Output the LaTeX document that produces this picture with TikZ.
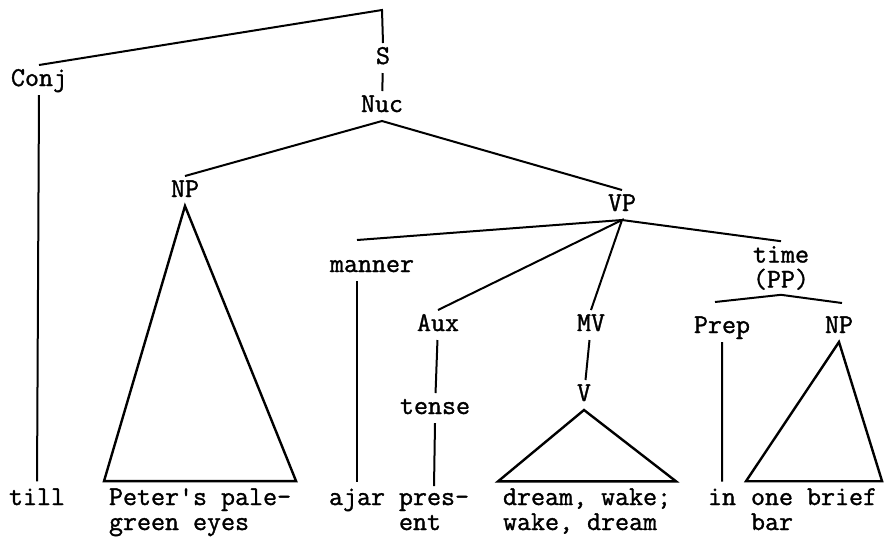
\documentclass[tikz,border=0pt]{standalone}
\usepackage{fontspec}
\setmonofont{Latin Modern Mono}[FakeBold=1.2]
\usetikzlibrary{calc,positioning}

\tikzset{
    cat/.style={inner sep=2pt, text height=8pt, text depth=2pt},
    twoline/.style={inner sep=2pt, align=center},
    leaf/.style={anchor=base west, align=left, inner xsep=2pt, inner ysep=3pt},
    roof/.style={line width=1.2pt, line join=miter}
}

\begin{document}
\begin{tikzpicture}[x=0.5pt,y=-0.5pt,line width=1pt,
        every node/.style={font=\ttfamily\fontsize{13.6}{12.5}\selectfont}]
        \useasboundingbox (0,0) rectangle (888,538);

        \coordinate (cTopPt) at (382,10);
        \coordinate (cMannerPt) at (357,240);
        \coordinate (cPrepPt) at (715,302);
        \coordinate (cNPbPt) at (842,303);

        % categories
        \node[cat] (nConj) at (39,80) {Conj};
        \node[cat] (nS) at (383,58) {S};
        \node[cat] (nNuc) at (382,106) {Nuc};
        \node[cat] (nNP) at (185,191) {NP};
        \node[cat] (nVP) at (622,205) {VP};
        \node[cat] (nManner) at (372,266) {manner};
        \node[cat] (nAux) at (438,325) {Aux};
        \node[cat] (nMV) at (591,325) {MV};
        \node[twoline] (nTime) at (781,268) {time\\(PP)};
        \node[cat] (nTense) at (435,408) {tense};
        \node[cat] (nV) at (584,395) {V};
        \node[cat] (nPrep) at (722,327) {Prep};
        \node[cat] (nNPb) at (839,327) {NP};

        % words (two-line ones sit on their second line)
        \node[leaf] (nTill) at (4,505) {till};
        \node[leaf] (nPeter) at (104,530) {Peter\textquotesingle s pale-\\green eyes};
        \node[leaf] (nAjar) at (324,505) {ajar};
        \node[leaf] (nPres) at (394,530) {pres-\\ent};
        \node[leaf] (nDream) at (498,530) {dream, wake;\\wake, dream};
        \node[leaf] (nIn) at (703,505) {in};
        \node[leaf] (nBrief) at (746,530) {one brief\\bar};

        \draw (nConj.north) -- (cTopPt) -- (nS.north);
        \draw (nS) -- (nNuc);
        \draw (nNP.north) -- (nNuc.south) -- (nVP.north);
        \draw (nConj.south) -- (nTill.north);

        \draw (cMannerPt) -- (nVP.south) -- (nTime.north);
        \draw (nAux.north) -- (nVP.south) -- (nMV.north);
        \draw (nManner.south -| nAjar.north) -- (nAjar.north);
        \draw (nAux) -- (nTense);
        \draw (nTense.south) -- (nPres.north);
        \draw (nMV) -- (nV);
        \draw (cPrepPt) -- (nTime.south) -- (cNPbPt);
        \draw (nPrep.south) -- (nIn.north);

        \draw[roof] (nNP.south) -- (nPeter.north west) -- (nPeter.north east) -- cycle;
        \draw[roof] (nV.south) -- (nDream.north west) -- (nDream.north east) -- cycle;
        \draw[roof] (nNPb.south) -- (nBrief.north west) -- (nBrief.north east) -- cycle;
\end{tikzpicture}
\end{document}
